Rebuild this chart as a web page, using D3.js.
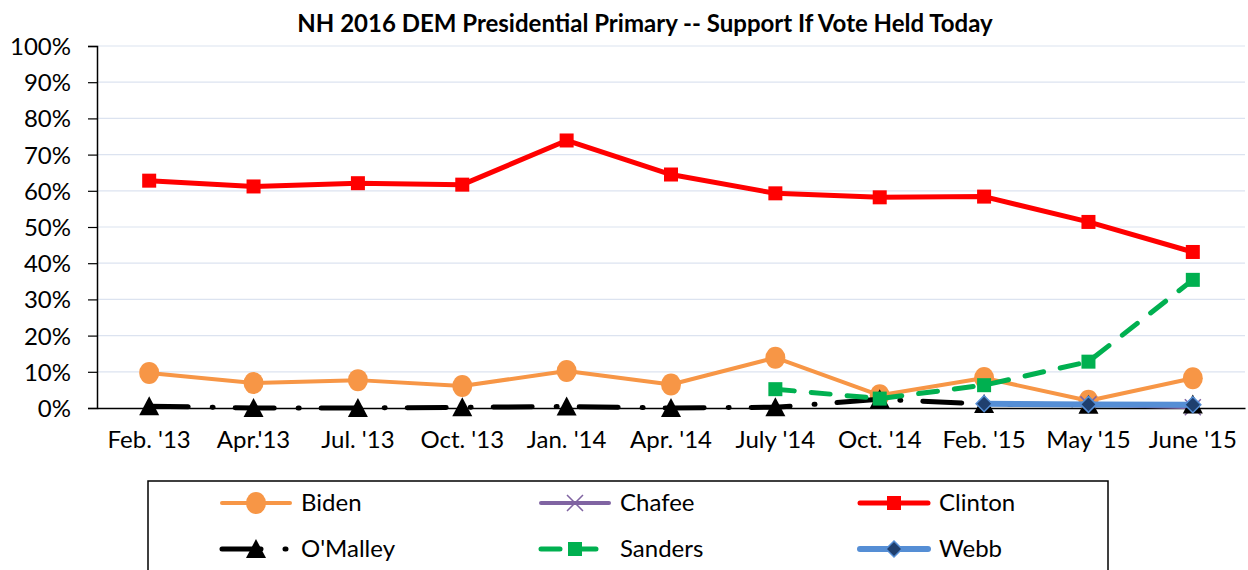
<!DOCTYPE html>
<html><head><meta charset="utf-8">
<script src="https://cdn.jsdelivr.net/npm/d3@7"></script>
<style>body{margin:0;background:#fff}svg{display:block}text{font-family:Lato,"Noto Sans",sans-serif}</style>
</head><body><svg id="c" width="1248" height="570"></svg>
<script>
const categories = ["Feb. '13","Apr.'13","Jul. '13","Oct. '13","Jan. '14","Apr. '14","July '14","Oct. '14","Feb. '15","May '15","June '15"];
const biden    = [9.7, 6.9, 7.7, 6.1, 10.2, 6.5, 13.9, 3.5, 8.3, 2.0, 8.2];
const chafee   = [null,null,null,null,null,null,null,null,null,1.0,0.2];
const clinton  = [62.8, 61.2, 62.1, 61.7, 73.9, 64.5, 59.3, 58.2, 58.4, 51.4, 43.1];
const omalley  = [0.5, 0.0, 0.0, 0.2, 0.4, 0.0, 0.2, 2.4, 1.1, 0.9, 1.0];
const sanders  = [null,null,null,null,null,null,5.2, 2.6, 6.3, 12.8, 35.4];
const webb     = [null,null,null,null,null,null,null,null,1.2, 1.0, 0.9];
const yTicks   = [0,10,20,30,40,50,60,70,80,90,100];
const title    = "NH 2016 DEM Presidential Primary -- Support If Vote Held Today";

const series = [
  {name:"Biden",   values:biden,   color:"#F79646", width:4, dash:null, marker:"circle"},
  {name:"Chafee",  values:chafee,  color:"#8064A2", width:4, dash:null, marker:"x"},
  {name:"Clinton", values:clinton, color:"#FF0000", width:5, dash:null, marker:"square"},
  {name:"O'Malley",values:omalley, color:"#000000", width:5, dash:"39,24,1,22", marker:"triangle"},
  {name:"Sanders", values:sanders, color:"#00B050", width:5, dash:"19,17", marker:"square"},
  {name:"Webb",    values:webb,    color:"#558ED5", width:6, dash:null, marker:"diamond"}
];

const svg = d3.select("#c");
const L=97, R=1245, T=46, B=408;
const x = d3.scaleBand().domain(categories).range([L,R]);
const y = d3.scaleLinear().domain([0,100]).range([B,T]);
const cx = c => x(c)+x.bandwidth()/2;

svg.append("text").attr("x",645).attr("y",32).attr("text-anchor","middle")
  .attr("font-size",24).attr("font-weight","bold").text(title);

// gridlines
svg.append("g").selectAll("line").data(yTicks.filter(d=>d>0)).join("line")
  .attr("x1",L).attr("x2",R).attr("y1",d=>y(d)).attr("y2",d=>y(d))
  .attr("stroke","#DCE3F0").attr("stroke-width",1.2);

// y axis
const ya = svg.append("g").attr("transform",`translate(${L},0)`)
  .call(d3.axisLeft(y).tickValues(yTicks).tickFormat(d=>d+"%").tickSize(9).tickPadding(17));
ya.select(".domain").attr("stroke","#000").attr("stroke-width",1.5);
ya.selectAll(".tick line").attr("stroke","#000").attr("stroke-width",1.2);
ya.selectAll("text").attr("font-size",24).attr("fill","#000").attr("font-family","Lato,sans-serif").attr("dy","0.35em");

// x axis
const xa = svg.append("g").attr("transform",`translate(0,${B})`)
  .call(d3.axisBottom(x).tickSize(0).tickPadding(23).tickSizeOuter(0));
xa.select(".domain").attr("stroke","#000").attr("stroke-width",1.5);
xa.selectAll("text").attr("font-size",24).attr("fill","#000").attr("font-family","Lato,sans-serif");

function drawMarker(g, type, px, py, color){
  if(type==="circle"){
    g.append("ellipse").attr("cx",px).attr("cy",py).attr("rx",10).attr("ry",11).attr("fill",color);
  } else if(type==="square"){
    g.append("rect").attr("x",px-7).attr("y",py-7).attr("width",14).attr("height",14).attr("fill",color);
  } else if(type==="triangle"){
    g.append("path").attr("d",`M${px},${py-10}L${px+10},${py+9}L${px-10},${py+9}Z`).attr("fill","#000");
  } else if(type==="diamond"){
    g.append("path").attr("d",`M${px},${py-8}L${px+8},${py}L${px},${py+8}L${px-8},${py}Z`)
      .attr("fill","#1F3F6E").attr("stroke","#558ED5").attr("stroke-width",1.5);
  } else if(type==="x"){
    g.append("path").attr("d",`M${px-8},${py-8}L${px+8},${py+8}M${px-8},${py+8}L${px+8},${py-8}`)
      .attr("stroke",color).attr("stroke-width",1.5).attr("fill","none");
  }
}

const line = d3.line().defined(d=>d.v!==null).x(d=>cx(d.c)).y(d=>y(d.v));
series.forEach(s=>{
  const g = svg.append("g");
  const pts = categories.map((c,i)=>({c, v:s.values[i]}));
  g.append("path").datum(pts).attr("d",line).attr("fill","none")
    .attr("stroke",s.color).attr("stroke-width",s.width)
    .attr("stroke-linecap","round").attr("stroke-linejoin","round")
    .attr("stroke-dasharray",s.dash);
  pts.filter(d=>d.v!==null).forEach(d=>drawMarker(g,s.marker,cx(d.c),y(d.v),s.color));
});

// legend
svg.append("rect").attr("x",148).attr("y",481).attr("width",960).attr("height",100)
  .attr("fill","none").attr("stroke","#000").attr("stroke-width",1.5);
const colX=[222,541,860], rowY=[503,549];
series.forEach((s,i)=>{
  const lx=colX[i%3], ly=rowY[Math.floor(i/3)];
  const g=svg.append("g");
  g.append("line").attr("x1",lx).attr("x2",lx+68).attr("y1",ly).attr("y2",ly)
    .attr("stroke",s.color).attr("stroke-width",s.width).attr("stroke-linecap","round")
    .attr("stroke-dasharray",s.dash);
  drawMarker(g,s.marker,lx+34,ly,s.color);
  g.append("text").attr("x",lx+79).attr("y",ly).attr("dy","0.35em").attr("font-size",24).text(s.name);
});
</script></body></html>
